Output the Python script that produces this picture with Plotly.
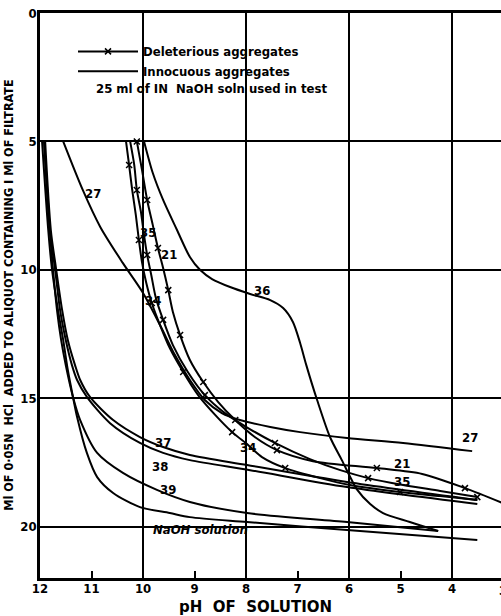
import plotly.graph_objects as go

# ---------------- data (pH of solution, ml of 0.05N HCl) ----------------
# Deleterious aggregates
ph_21 = [10.12, 10.02, 9.92, 9.81, 9.71, 9.61, 9.51, 9.42, 9.28, 9.09, 8.83, 8.54, 8.21, 7.83, 7.40, 6.70, 5.46, 4.58, 3.75, 2.97]
ml_21 = [5.0, 6.11, 7.28, 8.26, 9.15, 9.93, 10.79, 11.64, 12.54, 13.51, 14.37, 15.15, 15.85, 16.51, 17.02, 17.45, 17.72, 17.95, 18.50, 19.12]

ph_35 = [10.25, 10.17, 10.12, 10.04, 9.98, 9.92, 9.84, 9.75, 9.61, 9.42, 9.13, 8.80, 8.41, 7.96, 7.44, 6.76, 6.17, 5.63, 4.95, 4.23, 3.51]
ml_35 = [5.0, 5.92, 6.89, 7.75, 8.65, 9.42, 10.20, 11.10, 11.95, 12.93, 13.98, 14.88, 15.58, 16.16, 16.74, 17.37, 17.80, 18.11, 18.38, 18.61, 18.85]

ph_34 = [10.33, 10.27, 10.21, 10.14, 10.08, 10.02, 9.94, 9.83, 9.67, 9.48, 9.22, 8.93, 8.60, 8.27, 7.96, 7.69, 7.24, 6.56, 5.98, 5.01, 4.23, 3.51]
ml_34 = [5.0, 5.92, 6.89, 7.86, 8.84, 9.70, 10.48, 11.29, 12.15, 13.05, 13.98, 14.88, 15.65, 16.32, 16.82, 17.29, 17.72, 18.11, 18.38, 18.65, 18.81, 18.96]

# Innocuous aggregates
ph_36 = [9.98, 9.81, 9.61, 9.34, 9.09, 8.89, 8.66, 8.31, 7.92, 7.53, 7.28, 7.09, 6.95, 6.83, 6.62, 6.37, 6.14, 5.84, 5.59, 5.34, 4.82, 4.27]
ml_36 = [5.0, 6.23, 7.28, 8.45, 9.50, 10.01, 10.36, 10.67, 10.94, 11.18, 11.49, 12.03, 12.85, 13.71, 15.07, 16.51, 17.41, 18.57, 19.12, 19.47, 19.82, 20.17]

ph_27 = [11.55, 11.17, 10.83, 10.39, 10.00, 9.67, 9.38, 9.09, 8.80, 8.47, 8.12, 7.53, 6.95, 6.04, 4.95, 3.61]
ml_27 = [5.0, 6.89, 8.33, 9.74, 10.90, 12.15, 13.32, 14.29, 15.07, 15.58, 15.85, 16.12, 16.32, 16.55, 16.74, 17.06]

ph_37 = [11.90, 11.79, 11.69, 11.57, 11.46, 11.32, 11.22, 11.03, 10.58, 10.06, 9.61, 9.09, 7.98, 6.04, 3.51]
ml_37 = [5.0, 8.45, 9.93, 11.57, 12.73, 13.71, 14.29, 14.95, 15.85, 16.51, 16.90, 17.21, 17.60, 18.26, 18.96]

ph_38 = [11.92, 11.81, 11.71, 11.61, 11.50, 11.38, 11.28, 11.09, 10.64, 10.06, 9.61, 9.09, 7.92, 6.04, 3.51]
ml_38 = [5.0, 8.45, 9.93, 11.57, 12.73, 13.71, 14.29, 14.95, 15.97, 16.74, 17.13, 17.41, 17.80, 18.46, 19.12]

ph_39 = [11.92, 11.81, 11.75, 11.67, 11.59, 11.50, 11.36, 11.22, 10.89, 10.39, 9.73, 9.09, 7.98, 6.04, 4.27]
ml_39 = [5.0, 8.45, 9.93, 11.57, 12.73, 13.71, 14.95, 15.85, 17.13, 17.91, 18.57, 19.04, 19.47, 19.82, 20.17]

ph_naoh = [11.96, 11.84, 11.77, 11.65, 11.55, 11.46, 11.36, 11.28, 11.09, 10.89, 10.58, 10.06, 9.48, 9.09, 7.98, 6.04, 3.51]
ml_naoh = [5.0, 8.45, 9.93, 11.57, 12.73, 13.90, 14.95, 15.73, 17.13, 18.07, 18.69, 19.24, 19.47, 19.63, 19.82, 20.13, 20.52]

# tick labels
x_ticks = [12, 11, 10, 9, 8, 7, 6, 5, 4]
x_grid = [10, 8, 6, 4]
y_ticks = [0, 5, 10, 15, 20]

# curve labels: (text, pH, ml)
curve_labels = [
    ("27", 10.97, 7.01), ("35", 9.90, 8.53), ("21", 9.50, 9.42), ("34", 9.81, 11.18),
    ("36", 7.69, 10.79), ("27", 3.65, 16.51), ("21", 4.97, 17.55), ("35", 4.97, 18.25),
    ("34", 7.96, 16.90), ("37", 9.61, 16.74), ("38", 9.67, 17.64), ("39", 9.51, 18.54),
    ("<i>NaOH solution</i>", 8.89, 20.13),
]

FONT = "DejaVu Sans Condensed"
BLACK = "black"

fig = go.Figure()

deleterious = [(ph_21, ml_21), (ph_35, ml_35), (ph_34, ml_34)]
innocuous = [(ph_36, ml_36), (ph_27, ml_27), (ph_37, ml_37), (ph_38, ml_38), (ph_39, ml_39), (ph_naoh, ml_naoh)]

for i, (xs, ys) in enumerate(deleterious):
    fig.add_trace(go.Scatter(
        x=xs, y=ys, mode="lines+markers", name="Deleterious aggregates",
        legendgroup="d", showlegend=(i == 0),
        line=dict(color=BLACK, width=2, shape="spline", smoothing=0.8),
        marker=dict(symbol="x-thin", size=6, line=dict(color=BLACK, width=1.5), color=BLACK,
                    maxdisplayed=10),
    ))
for i, (xs, ys) in enumerate(innocuous):
    fig.add_trace(go.Scatter(
        x=xs, y=ys, mode="lines", name="Innocuous aggregates",
        legendgroup="i", showlegend=(i == 0),
        line=dict(color=BLACK, width=2, shape="spline", smoothing=0.8),
    ))

annotations = []
for txt, px, py in curve_labels:
    annotations.append(dict(x=px, y=py, xref="x", yref="y", text=txt, showarrow=False,
                            font=dict(family=FONT, size=13, color=BLACK, weight="bold")))
annotations.append(dict(x=8.66, y=2.95, xref="x", yref="y", text="25 ml of IN  NaOH soln used in test",
                        showarrow=False, font=dict(family=FONT, size=13, color=BLACK, weight="bold")))
annotations.append(dict(x=-0.069, y=0.5, xref="paper", yref="paper", xanchor="center", yanchor="middle",
                        textangle=-90,
                        text="Ml OF 0·05N  HCl  ADDED TO ALIQUOT CONTAINING I Ml OF FILTRATE",
                        showarrow=False, font=dict(family=FONT, size=12.5, color=BLACK, weight="bold")))
annotations.append(dict(x=0.468, y=-0.0513, xref="paper", yref="paper", xanchor="center", yanchor="middle",
                        text="pH  OF  SOLUTION", showarrow=False,
                        font=dict(family="DejaVu Sans", size=15, color=BLACK, weight="bold")))
annotations.append(dict(x=1.0054, y=0, xref="paper", yref="paper", xanchor="center", yanchor="top",
                        yshift=-3, text="3", showarrow=False,
                        font=dict(family=FONT, size=13, color=BLACK, weight="bold")))

fig.update_layout(
    width=501, height=616,
    margin=dict(l=40, r=0, t=13, b=38, autoexpand=False),
    paper_bgcolor="white", plot_bgcolor="white",
    showlegend=True,
    legend=dict(x=0.0716, y=0.9585, xanchor="left", yanchor="top", bgcolor="rgba(0,0,0,0)",
                itemwidth=60, tracegroupgap=0,
                font=dict(family=FONT, size=13, color=BLACK, weight="bold")),
    annotations=annotations,
    font=dict(family=FONT, color=BLACK),
)
fig.update_xaxes(
    range=[12, 3.05], tickvals=x_ticks, ticktext=[str(v) for v in x_ticks],
    showgrid=False, zeroline=False, automargin=False,
    showline=True, linecolor=BLACK, linewidth=2.5, mirror=True,
    ticks="inside", ticklen=7, tickwidth=2, tickcolor=BLACK, ticklabelstandoff=-3,
    tickfont=dict(family=FONT, size=13, color=BLACK, weight="bold"),
    minor=dict(tickvals=x_grid, showgrid=True, gridcolor=BLACK, gridwidth=2, ticks=""),
)
fig.update_yaxes(
    range=[22, 0], tickvals=y_ticks, ticktext=[str(v) for v in y_ticks],
    showgrid=True, gridcolor=BLACK, gridwidth=2, zeroline=False, automargin=False,
    showline=True, linecolor=BLACK, linewidth=2.5,
    ticks="", ticklabelstandoff=-2,
    tickfont=dict(family=FONT, size=13, color=BLACK, weight="bold"),
)

# remove the default 8 px page margin so the figure sits at the window's corner
fig.write_html("out.html", config={"displayModeBar": False},
               post_script="document.body.style.margin='0';")
